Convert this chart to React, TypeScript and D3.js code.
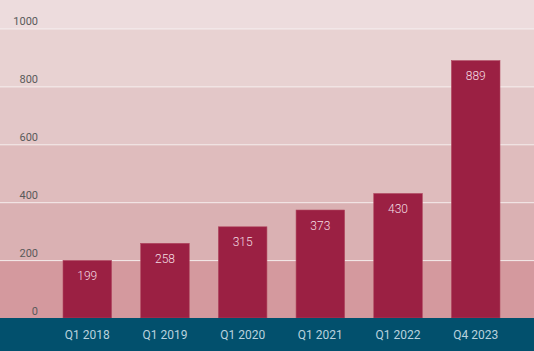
import React, {useEffect, useRef} from 'react';
import * as d3 from 'd3';

const quarters = ['Q1 2018', 'Q1 2019', 'Q1 2020', 'Q1 2021', 'Q1 2022', 'Q4 2023'];
const values = [199, 258, 315, 373, 430, 889];
const yTicks = [0, 200, 400, 600, 800, 1000];
// band shades, bottom band first
const bandColors = ['#d4999e', '#dab1b3', '#dfbcbd', '#e3c7c8', '#e8d2d2', '#eddcdd'];

const width = 534;
const height = 351;
const baseline = 318;

const App: React.FC = () => {
  const ref = useRef<SVGSVGElement>(null);

  useEffect(() => {
    const svg = d3.select(ref.current);
    svg.selectAll('*').remove();

    const y = d3.scaleLinear().domain([0, 1000]).range([baseline, 28.5]);
    const x = d3.scaleBand()
      .domain(quarters)
      .range([39.7, 523.3])
      .paddingInner(0.375)
      .paddingOuter(0.3);

    // background bands
    const bands = yTicks.map((t, i) => ({
      top: i < yTicks.length - 1 ? y(yTicks[i + 1]) : 0,
      bottom: y(t),
      color: bandColors[i]
    }));
    svg.selectAll('.band')
      .data(bands)
      .enter().append('rect')
      .attr('x', 0)
      .attr('width', width)
      .attr('y', d => d.top)
      .attr('height', d => d.bottom - d.top)
      .attr('fill', d => d.color);

    // gridlines
    svg.selectAll('.grid')
      .data(yTicks.slice(1))
      .enter().append('line')
      .attr('x1', 0)
      .attr('x2', width)
      .attr('y1', d => y(d) + 0.5)
      .attr('y2', d => y(d) + 0.5)
      .attr('stroke', '#f4ecec')
      .attr('stroke-width', 1);

    // tick labels
    svg.selectAll('.tick')
      .data(yTicks)
      .enter().append('text')
      .attr('x', 38)
      .attr('y', d => y(d) - 3.5)
      .attr('text-anchor', 'end')
      .attr('font-family', 'Roboto')
      .attr('font-size', 11)
      .attr('fill', '#5a5a5a')
      .text(d => d);

    // bars
    svg.selectAll('.bar')
      .data(values)
      .enter().append('rect')
      .attr('x', (_, i) => x(quarters[i])!)
      .attr('y', d => y(d))
      .attr('width', x.bandwidth())
      .attr('height', d => baseline - y(d))
      .attr('fill', '#9b2043')
      .attr('stroke', '#b0475f')
      .attr('stroke-width', 0.6);

    svg.selectAll('.val')
      .data(values)
      .enter().append('text')
      .attr('x', (_, i) => x(quarters[i])! + x.bandwidth() / 2)
      .attr('y', d => y(d) + 19.5)
      .attr('text-anchor', 'middle')
      .attr('font-family', 'Roboto')
      .attr('font-weight', 300)
      .attr('font-size', 12)
      .attr('fill', '#f3dde2')
      .text(d => d);

    // bottom axis strip
    svg.append('rect')
      .attr('x', 0)
      .attr('y', baseline)
      .attr('width', width)
      .attr('height', height - baseline)
      .attr('fill', '#02506d');

    svg.selectAll('.xlab')
      .data(quarters)
      .enter().append('text')
      .attr('x', d => x(d)! + x.bandwidth() / 2)
      .attr('y', 339)
      .attr('text-anchor', 'middle')
      .attr('font-family', 'Roboto')
      .attr('font-size', 12)
      .attr('fill', '#b9d2de')
      .text(d => d);
  }, []);

  return (
    <svg ref={ref} width={width} height={height}
         style={{position: 'absolute', left: 0, top: 0}}/>
  );
};

export default App;
